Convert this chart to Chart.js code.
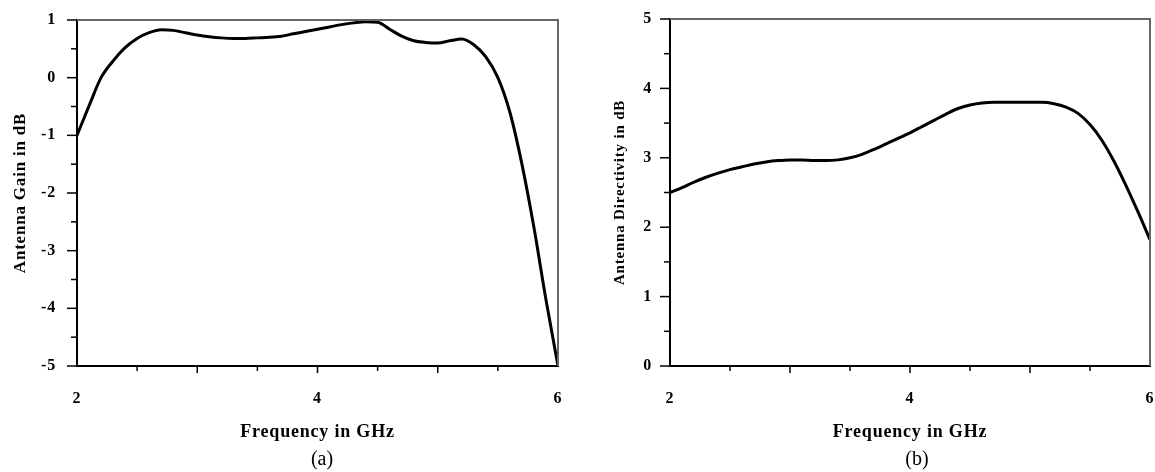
<!DOCTYPE html>
<html>
<head>
<meta charset="utf-8">
<script src="https://cdn.jsdelivr.net/npm/chart.js@4/dist/chart.umd.min.js"></script>
<style>
  body { margin: 0; background: #fff; }
  #wrap { position: relative; width: 1155px; height: 472px; overflow: hidden; }
  .panel { position: absolute; top: 0; height: 472px; }
  .cap { position: absolute; font-family: "Liberation Serif", "Times New Roman", serif; font-size: 20px; color: #000; transform: translate(-50%, -50%); }
</style>
</head>
<body>
<div id="wrap">
  <div class="panel" style="left:0;width:578px"><canvas id="gainChart"></canvas></div>
  <div class="panel" style="left:580px;width:575px"><canvas id="dirChart"></canvas></div>
  <div class="cap" style="left:322px;top:458px">(a)</div>
  <div class="cap" style="left:917px;top:458px">(b)</div>
</div>
<script>
// frequency points in GHz (shared by both curves)
var freqs = [2.0, 2.1, 2.2, 2.3, 2.4, 2.5, 2.6, 2.7, 2.8, 2.9,
             3.0, 3.1, 3.2, 3.3, 3.4, 3.5, 3.6, 3.7, 3.8, 3.9,
             4.0, 4.1, 4.2, 4.3, 4.4, 4.5, 4.6, 4.7, 4.8, 4.9,
             5.0, 5.1, 5.2, 5.3, 5.4, 5.5, 5.6, 5.7, 5.8, 5.9, 6.0];

// (a) antenna gain in dB
var gainDb = [-1.0, -0.49, 0.0, 0.29, 0.52, 0.68, 0.78, 0.83, 0.82, 0.78,
              0.74, 0.71, 0.69, 0.68, 0.68, 0.69, 0.70, 0.72, 0.76, 0.80,
              0.84, 0.88, 0.92, 0.95, 0.97, 0.96, 0.84, 0.72, 0.64, 0.61,
              0.60, 0.64, 0.67, 0.57, 0.36, 0.0, -0.60, -1.50, -2.60, -3.85, -5.0];

// (b) antenna directivity in dB
var directivityDb = [2.50, 2.57, 2.65, 2.72, 2.78, 2.83, 2.87, 2.91, 2.94, 2.96,
                     2.97, 2.97, 2.96, 2.96, 2.97, 3.00, 3.05, 3.12, 3.20, 3.28,
                     3.36, 3.45, 3.54, 3.63, 3.71, 3.76, 3.79, 3.80, 3.80, 3.80,
                     3.80, 3.80, 3.78, 3.73, 3.64, 3.48, 3.25, 2.95, 2.60, 2.22, 1.82];

var xLabels = [2, 4, 6];   // labelled frequency ticks
var serif = '"Liberation Serif", "Times New Roman", serif';

// draws the box outline and the major/minor tick marks, sets text spacing
var frameTicks = {
    id: 'frameTicks',
    beforeDraw: function(chart, args, opts) {
        chart.ctx.letterSpacing = opts.spacing || '0px';
    },
    afterDraw: function(chart) {
        var ctx = chart.ctx, a = chart.chartArea;
        var xs = chart.scales.x, ys = chart.scales.y;
        ctx.save();
        // top and right sides of the box
        ctx.strokeStyle = '#666';
        ctx.lineWidth = 2;
        ctx.beginPath();
        ctx.moveTo(a.left, a.top);
        ctx.lineTo(a.right, a.top);
        ctx.lineTo(a.right, a.bottom);
        ctx.stroke();
        // y ticks, pointing left
        ctx.strokeStyle = '#000';
        ctx.lineWidth = 1.5;
        ys.ticks.forEach(function(t) {
            var py = ys.getPixelForValue(t.value);
            var len = Number.isInteger(t.value) ? 10 : 6;
            ctx.beginPath();
            ctx.moveTo(a.left - len, py);
            ctx.lineTo(a.left, py);
            ctx.stroke();
        });
        // x ticks, pointing down
        xs.ticks.forEach(function(t) {
            if (t.value === xs.min || t.value === xs.max) return;
            var px = xs.getPixelForValue(t.value);
            var len = Number.isInteger(t.value) ? 7 : 5;
            ctx.beginPath();
            ctx.moveTo(px, a.bottom);
            ctx.lineTo(px, a.bottom + len);
            ctx.stroke();
        });
        ctx.restore();
    }
};

function makeChart(canvasId, values, yMin, yMax, yTitle, cfg) {
    var ctx = document.getElementById(canvasId).getContext('2d');
    var points = freqs.map(function(f, i) { return {x: f, y: values[i]}; });
    return new Chart(ctx, {
        type: 'line',
        data: {
            datasets: [{
                data: points,
                borderColor: '#000',
                borderWidth: 3,
                pointRadius: 0,
                fill: false,
                cubicInterpolationMode: 'monotone'
            }]
        },
        options: {
            responsive: true,
            maintainAspectRatio: false,
            animation: false,
            events: [],
            layout: { padding: cfg.pad },
            plugins: {
                legend: { display: false },
                tooltip: { enabled: false },
                frameTicks: { spacing: cfg.spacing }
            },
            scales: {
                x: {
                    type: 'linear',
                    min: 2, max: 6,
                    grid: { display: false },
                    border: { display: true, color: '#000', width: 2 },
                    ticks: {
                        stepSize: 0.5,
                        autoSkip: false,
                        maxRotation: 0,
                        padding: 15,
                        color: '#000',
                        font: { family: serif, size: 16, weight: 'bold' },
                        callback: function(v) { return xLabels.indexOf(v) >= 0 ? String(v) : ''; }
                    },
                    title: {
                        display: true,
                        text: 'Frequency in GHz',
                        color: '#000',
                        font: { family: serif, size: 18, weight: 'bold' },
                        padding: { top: 0, bottom: 29 }
                    },
                    afterFit: function(s) { s.height = 106; s.paddingLeft = 0; s.paddingRight = 0; }
                },
                y: {
                    min: yMin, max: yMax,
                    grid: { display: false },
                    border: { display: true, color: '#000', width: 2 },
                    ticks: {
                        stepSize: 0.5,
                        autoSkip: false,
                        padding: cfg.yTickPad,
                        color: '#000',
                        font: { family: serif, size: 16, weight: 'bold' },
                        callback: function(v) { return Number.isInteger(v) ? String(v) : ''; }
                    },
                    title: {
                        display: true,
                        text: yTitle,
                        color: '#000',
                        font: { family: serif, size: cfg.yTitleSize, weight: 'bold' },
                        padding: { top: cfg.yTitlePad, bottom: 0 }
                    },
                    afterFit: function(s) { s.width = cfg.yWidth; s.paddingTop = 0; s.paddingBottom = 0; }
                }
            }
        },
        plugins: [frameTicks]
    });
}

makeChart('gainChart', gainDb, -5, 1, 'Antenna Gain in dB', {
    pad: { top: 20, right: 20, left: 0, bottom: 0 },
    yWidth: 77, yTickPad: 13, yTitlePad: 10, yTitleSize: 17, spacing: '0.8px'
});
makeChart('dirChart', directivityDb, 0, 5, 'Antenna Directivity in dB', {
    pad: { top: 19, right: 5, left: 0, bottom: 0 },
    yWidth: 90, yTickPad: 10, yTitlePad: 31, yTitleSize: 15, spacing: '0.8px'
});
</script>
</body>
</html>
